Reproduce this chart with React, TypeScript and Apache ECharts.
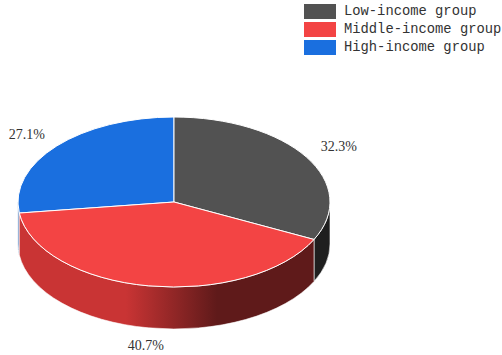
import React, { useEffect, useRef } from "react";
import * as echarts from "echarts";

const groups = ["Low-income group", "Middle-income group", "High-income group"];
const shares = [32.3, 40.7, 27.1];
const topColors = ["#525252", "#f34444", "#1a6fdf"];
const sideColors = ["#1f1f1f", "#c93434", "#1b56ab"];

// Pie geometry: an ellipse for the lid, extruded downwards by depth.
const CX = 174;
const CY = 202;
const RX = 156;
const RY = 85;
const DEPTH = 42;
const LABEL_K = 1.23;
// Small per-slice label offsets that keep the percentages clear of the rim.
const LABEL_DX = [2, 3, -3];
const LABEL_DY = [0, -2, 1];

const total = shares.reduce((a, b) => a + b, 0);
const rad = (share: number) => (share / total) * Math.PI * 2;

const px = (a: number) => CX + RX * Math.sin(a);
const py = (a: number, dy = 0) => CY - RY * Math.cos(a) + dy;

function lidPath(a0: number, a1: number) {
  const large = a1 - a0 > Math.PI ? 1 : 0;
  return `M${CX} ${CY}L${px(a0)} ${py(a0)}A${RX} ${RY} 0 ${large} 1 ${px(a1)} ${py(a1)}Z`;
}

function sidePath(a0: number, a1: number) {
  return (
    `M${px(a0)} ${py(a0)}A${RX} ${RY} 0 0 1 ${px(a1)} ${py(a1)}` +
    `L${px(a1)} ${py(a1, DEPTH)}A${RX} ${RY} 0 0 0 ${px(a0)} ${py(a0, DEPTH)}Z`
  );
}

// The red wall darkens from left to right, so its fill is set in page coordinates.
const redWall = {
  type: "linear",
  global: true,
  x: 20,
  y: 0,
  x2: 314,
  y2: 0,
  colorStops: [
    { offset: 0, color: "#c93434" },
    { offset: 0.36, color: "#c93434" },
    { offset: 0.67, color: "#5f1a1a" },
    { offset: 1, color: "#5f1a1a" },
  ],
};

function sliceSeries(index: number) {
  const start = shares.slice(0, index).reduce((a, b) => a + rad(b), 0);
  return {
    type: "custom",
    name: groups[index],
    coordinateSystem: "none",
    itemStyle: { color: topColors[index] },
    data: [[shares[index]]],
    silent: true,
    renderItem: (_params: unknown, api: any) => {
      const a0 = start;
      const a1 = start + rad(api.value(0));
      const mid = (a0 + a1) / 2;
      // Only the part of the rim facing the viewer has a visible wall.
      const s0 = Math.max(a0, Math.PI / 2);
      const s1 = Math.min(a1, (Math.PI * 3) / 2);
      const children: any[] = [];
      if (s1 > s0) {
        children.push({
          type: "path",
          shape: { pathData: sidePath(s0, s1) },
          z2: 1,
          style: {
            fill: index === 1 ? redWall : sideColors[index],
            stroke: index === 2 ? "#dfe6f0" : "rgba(255,255,255,0.75)",
            lineWidth: index === 2 ? 1 : 0.8,
          },
        });
      }
      children.push({
        type: "path",
        shape: { pathData: lidPath(a0, a1) },
        z2: 5,
        style: { fill: topColors[index], stroke: "#ffffff", lineWidth: 1 },
      });
      children.push({
        type: "text",
        z2: 6,
        x: CX + RX * LABEL_K * Math.sin(mid) + LABEL_DX[index],
        y:
          CY -
          RY * LABEL_K * Math.cos(mid) +
          (Math.cos(mid) < -0.5 ? DEPTH : 0) +
          LABEL_DY[index],
        style: {
          text: `${api.value(0).toFixed(1)}%`,
          fill: "#333333",
          font: '14px "Liberation Serif"',
          align: "center",
          verticalAlign: "middle",
        },
      });
      return { type: "group", children };
    },
  };
}

export default function App() {
  const ref = useRef<HTMLDivElement>(null);

  useEffect(() => {
    const chart = echarts.init(ref.current!, undefined, { renderer: "svg" });
    chart.setOption({
      animation: false,
      backgroundColor: "#ffffff",
      legend: {
        orient: "vertical",
        left: 304,
        top: 3,
        padding: 0,
        itemWidth: 32,
        itemHeight: 15,
        itemGap: 1,
        icon: "rect",
        data: groups.map((name, i) => ({ name, itemStyle: { color: topColors[i] } })),
        textStyle: {
          fontFamily: '"Liberation Mono"',
          fontSize: 13.8,
          lineHeight: 13,
          color: "#333333",
          padding: [4, 0, 0, 3],
        },
      },
      series: [sliceSeries(2), sliceSeries(0), sliceSeries(1)],
    });
    return () => chart.dispose();
  }, []);

  return (
    <div
      ref={ref}
      style={{ position: "absolute", left: 0, top: 0, width: 502, height: 355 }}
    />
  );
}
